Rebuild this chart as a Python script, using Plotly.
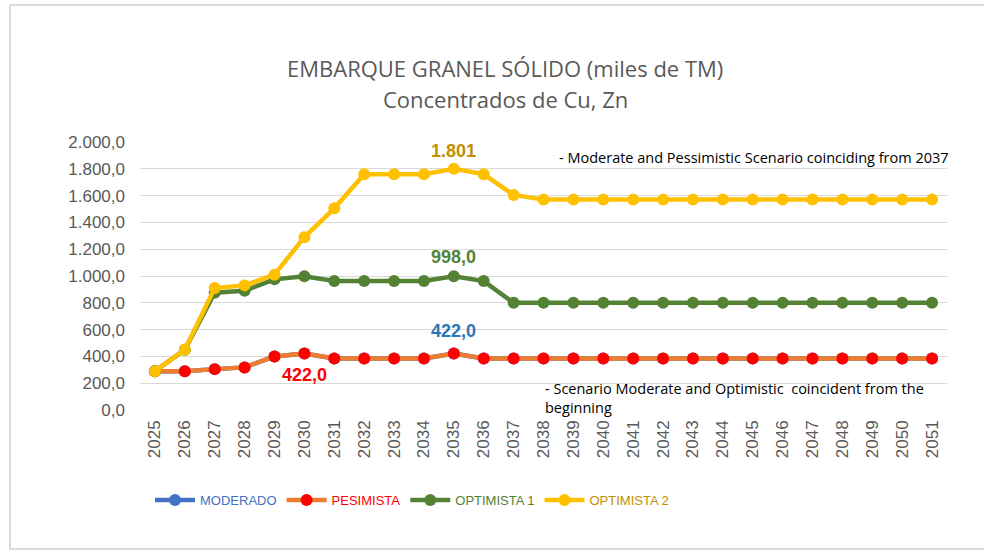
import plotly.graph_objects as go

years = [str(y) for y in range(2025, 2052)]
moderado = [290, 290, 305, 318, 400, 422, 385, 385, 385, 385, 422, 385] + [385] * 15
pesimista = [290, 290, 305, 318, 400, 422, 385, 385, 385, 385, 422, 385] + [385] * 15
optimista1 = [290, 450, 875, 890, 975, 998, 962, 962, 962, 962, 998, 962] + [800] * 15
optimista2 = [290, 450, 910, 930, 1010, 1290, 1505, 1760, 1760, 1760, 1801, 1760, 1605] + [1570] * 14
y_ticks = [0, 200, 400, 600, 800, 1000, 1200, 1400, 1600, 1800, 2000]

FONT = "Liberation Sans, Arial, sans-serif"
TFONT = "Open Sans, Noto Sans, sans-serif"


def px_x(p):
    return (p - 140) / 807


def px_y(p):
    return (410 - p) / 268


fig = go.Figure()


def add(name, vals, line_c, mark_c, leg_c):
    fig.add_trace(go.Scatter(
        x=years, y=vals, mode="lines+markers",
        name=f"<span style='color:{leg_c}'>{name}</span>",
        line=dict(color=line_c, width=4.5),
        marker=dict(color=mark_c, size=12),
        cliponaxis=False,
    ))


add("MODERADO", moderado, "#4472C4", "#4472C4", "#4472C4")
add("PESIMISTA", pesimista, "#ED7D31", "#FF0000", "#FF0000")
add("OPTIMISTA 1", optimista1, "#548235", "#548235", "#548235")
add("OPTIMISTA 2", optimista2, "#FFC000", "#FFC000", "#BF9000")

i35 = years.index("2035")
i30 = years.index("2030")
labels = [
    (i35, optimista2[i35], "1.801", "#BF9000", 18),
    (i35, optimista1[i35], "998,0", "#548235", 19),
    (i35, moderado[i35], "422,0", "#2E75B6", 22),
    (i30, pesimista[i30], "422,0", "#FF0000", -22),
]
for x, y, t, c, ys in labels:
    fig.add_annotation(x=x, y=y, xref="x", yref="y", text=t, showarrow=False, yshift=ys,
                       font=dict(family=FONT, size=18, color=c, weight="bold"))

fig.add_annotation(xref="paper", yref="paper", x=px_x(557), y=px_y(157),
                   xanchor="left", yanchor="middle", showarrow=False,
                   text="- Moderate and Pessimistic Scenario coinciding from 2037",
                   font=dict(family=TFONT, size=14.5, color="#000000"))
fig.add_annotation(xref="paper", yref="paper", x=px_x(543), y=px_y(398),
                   xanchor="left", yanchor="middle", showarrow=False, align="left",
                   text="- Scenario Moderate and Optimistic  coincident from the<br>beginning",
                   font=dict(family=TFONT, size=14.5, color="#000000"))

# title lines
fig.add_annotation(xref="paper", yref="paper", x=px_x(505), y=px_y(68),
                   xanchor="center", yanchor="middle", showarrow=False,
                   text="EMBARQUE GRANEL SÓLIDO (miles de TM)",
                   font=dict(family=TFONT, size=22, color="#595959"))
fig.add_annotation(xref="paper", yref="paper", x=px_x(505), y=px_y(99),
                   xanchor="center", yanchor="middle", showarrow=False,
                   text="Concentrados de Cu, Zn",
                   font=dict(family=TFONT, size=22, color="#595959"))

fig.add_shape(type="rect", xref="paper", yref="paper",
              x0=px_x(10), x1=px_x(1010),
              y0=px_y(549), y1=px_y(5),
              line=dict(color="#D0D0D0", width=1.5), layer="below")

fig.update_layout(
    width=984, height=551,
    paper_bgcolor="white", plot_bgcolor="white",
    margin=dict(l=140, r=37, t=142, b=141),
    separators=",.",
    xaxis=dict(
        type="category", range=[-0.5, len(years) - 0.5], tickangle=-90,
        showgrid=False, showline=False, ticks="",
        tickfont=dict(family=FONT, size=17, color="#595959"),
        ticklabelstandoff=6,
    ),
    yaxis=dict(
        range=[0, 2000], tickvals=y_ticks, tickformat=",.1f",
        showgrid=True, gridcolor="#D9D9D9", gridwidth=1, zeroline=False,
        tickfont=dict(family=FONT, size=17, color="#595959"), ticks="",
        ticklabelstandoff=14,
    ),
    legend=dict(
        orientation="h", x=px_x(150), xanchor="left", y=px_y(500), yanchor="middle",
        font=dict(family=FONT, size=13), itemwidth=40,
        bgcolor="rgba(0,0,0,0)",
    ),
    showlegend=True,
    font=dict(family=FONT),
)

fig.write_html("out.html", config={"displayModeBar": False},
               post_script="document.body.style.margin='0px';")
